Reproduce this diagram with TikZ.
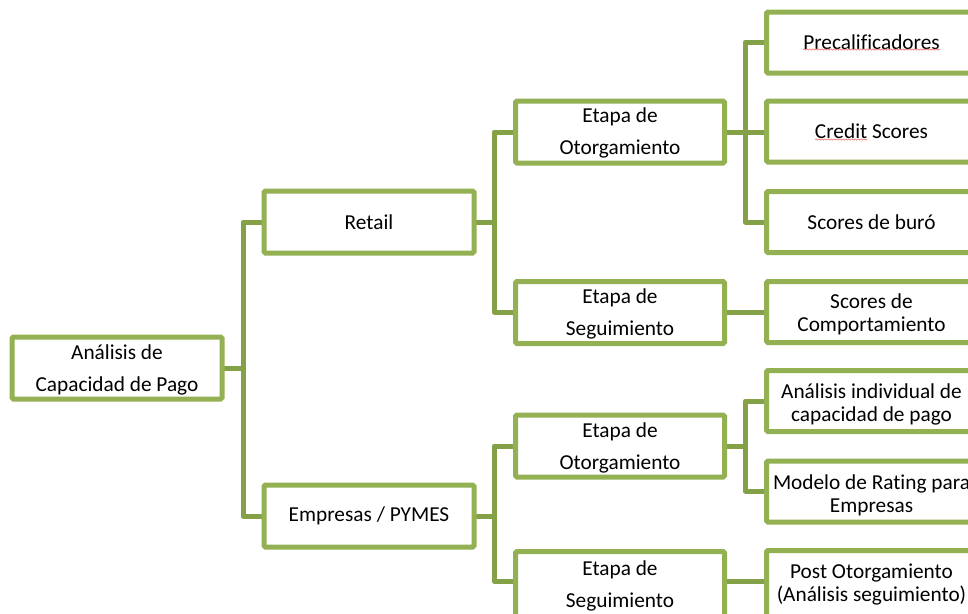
\documentclass[tikz,border=0pt]{standalone}
\usepackage{fontspec}
\setmainfont{Carlito}[Ligatures=NoCommon]
\usetikzlibrary{decorations.pathmorphing}
\definecolor{boxgreen}{RGB}{147,176,82}
\definecolor{linegreen}{RGB}{133,161,72}
\definecolor{spell}{RGB}{240,130,130}
\tikzset{
  gbox/.style={draw=boxgreen, line width=5pt, rounded corners=1.5pt, fill=white,
    minimum width=210pt, minimum height=62pt, inner sep=0pt, outer sep=0pt,
    align=center, font=\fontsize{21.3}{32}\selectfont},
  loose/.style={align=center, font=\fontsize{21.3}{32}\selectfont, inner sep=0pt, yshift=-2pt},
  tight/.style={align=center, font=\fontsize{21.3}{23}\selectfont, inner sep=0pt, yshift=-3.5pt},
  conn/.style={draw=linegreen, line width=5pt, line join=round},
  squiggle/.style={draw=spell, line width=0.7pt, decorate,
    decoration={snake, amplitude=0.6pt, segment length=3pt}}
}
\begin{document}
\begin{tikzpicture}[x=1pt,y=-1pt]
\useasboundingbox (0,0) rectangle (968,613);
\clip (0,0) rectangle (968,613);
% junctions
\coordinate (j0) at (243,368);
\coordinate (j1) at (494,222);
\coordinate (j2) at (494,516);
\coordinate (j3) at (745.5,132);
\coordinate (j4) at (745.5,446);
% connectors (drawn first)
\draw[conn] (117,368) -- (j0);
\draw[conn] (j0) |- (369,222);
\draw[conn] (j0) |- (369,516);
\draw[conn] (369,222) -- (j1);
\draw[conn] (j1) |- (620,132);
\draw[conn] (j1) |- (620,312);
\draw[conn] (369,516) -- (j2);
\draw[conn] (j2) |- (620,446);
\draw[conn] (j2) |- (620,581);
\draw[conn] (620,132) -- (j3);
\draw[conn] (j3) |- (871.5,42);
\draw[conn] (j3) |- (871.5,132);
\draw[conn] (j3) |- (871.5,222);
\draw[conn] (620,312) -- (871.5,312);
\draw[conn] (620,446) -- (j4);
\draw[conn] (j4) |- (871.5,401);
\draw[conn] (j4) |- (871.5,491);
\draw[conn] (620,581) -- (871.5,581);
% boxes
\node[gbox] (root) at (117,368) {};
\node[loose] (roott) at (root) {Análisis de\\Capacidad de Pago};
\node[gbox] (retail) at (369,222) {Retail};
\node[gbox] (emp) at (369,516) {Empresas / PYMES};
\node[gbox, minimum width=209pt] (ro) at (620,132) {};
\node[loose, yshift=1pt] (rot) at (ro) {Etapa de\\Otorgamiento};
\node[gbox, minimum width=209pt] (rs) at (620,312.5) {};
\node[loose, yshift=1pt] (rst) at (rs) {Etapa de\\Seguimiento};
\node[gbox, minimum width=209pt] (eo) at (620,446) {};
\node[loose] (eot) at (eo) {Etapa de\\Otorgamiento};
\node[gbox, minimum width=209pt, minimum height=69pt] (es) at (620,586) {};
\node[loose] (est) at (620,584) {Etapa de\\Seguimiento};
\node[gbox, minimum height=61pt] (pre) at (871.5,42.5) {Precalificadores};
\node[gbox, minimum height=61pt] (cs) at (871.5,131.5) {Credit Scores};
\node[gbox, minimum height=61pt] (sb) at (871.5,222) {Scores de buró};
\node[gbox, minimum height=61pt] (sc) at (871.5,312) {};
\node[tight, yshift=1.5pt] (sct) at (sc) {Scores de\\Comportamiento};
\node[gbox, minimum height=61pt] (ai) at (871.5,401) {};
\node[tight] (ait) at (ai) {Análisis individual de\\capacidad de pago};
\node[gbox, minimum height=61pt] (mr) at (871.5,491.5) {};
\node[tight] (mrt) at (mr) {Modelo de Rating para\\Empresas};
\node[gbox, minimum height=69pt] (po) at (871.5,585) {};
\node[tight] (pot) at (871.5,581) {Post Otorgamiento\\(Análisis seguimiento)};
% spell-check marks
\draw[squiggle] (803,49.5) -- (940,49.5);
\draw[squiggle] (815,139.5) -- (867,139.5);
\end{tikzpicture}
\end{document}
